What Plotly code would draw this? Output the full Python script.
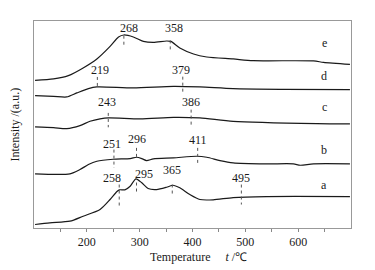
import plotly.graph_objects as go

# Curve data (temperature in degC, intensity in arbitrary units, offset stacked)
T_e = [102, 137, 165, 193, 219, 244, 260, 270, 288, 307, 326, 351, 359, 376, 402, 427, 477, 515, 629, 648, 698]
I_e = [147.8, 149.2, 152.5, 160.2, 169.2, 181.8, 191.2, 193.2, 191.2, 186.8, 185.8, 187.2, 186.8, 180.2, 174.2, 171.2, 169.2, 167.5, 167.2, 165.8, 163.8]

T_d = [102, 137, 162, 181, 203, 219, 288, 364, 414, 477, 572, 698]
I_d = [132.5, 131.8, 131.2, 135.2, 139.5, 141.2, 140.2, 141.8, 141.2, 139.5, 138.8, 138.5]

T_c = [102, 137, 162, 187, 206, 225, 241, 301, 364, 414, 477, 635, 698]
I_c = [101.2, 100.5, 99.5, 102.5, 106.8, 109.2, 110.2, 109.2, 110.8, 110.2, 106.8, 104.5, 104.2]

T_b = [102, 168, 187, 203, 219, 250, 282, 294, 304, 313, 326, 364, 408, 427, 452, 477, 540, 591, 604, 629, 698]
I_b = [54.2, 54.2, 58.5, 63.5, 66.8, 68.8, 69.5, 70.8, 69.5, 67.5, 69.2, 70.2, 71.8, 70.8, 67.5, 65.2, 64.2, 64.2, 62.8, 64.2, 64.2]

T_a = [102, 130, 168, 193, 225, 244, 257, 262, 272, 282, 293, 304, 316, 332, 351, 363, 376, 395, 414, 439, 477, 540, 698]
I_a = [3.5, 5.2, 6.8, 11.8, 18.5, 28.5, 36.5, 38.2, 38.2, 41.8, 49.2, 45.2, 39.5, 38.5, 40.8, 42.8, 40.2, 33.5, 28.5, 28.2, 30.5, 31.5, 31.5]

series_names = ["a", "b", "c", "d", "e"]
series_T = [T_a, T_b, T_c, T_d, T_e]
series_I = [I_a, I_b, I_c, I_d, I_e]

# Curve letter labels
letter_T = [648, 648, 650, 648, 650]
letter_I = [43.5, 78.5, 121.2, 152.5, 185.2]

# Peak labels and marker lines
peak_text = ["268", "358", "219", "379", "243", "386", "251", "296", "411", "258", "295", "365", "495"]
peak_text_T = [280.1, 364.1, 225.0, 378.6, 238.7, 397.4, 248.1, 295.1, 409.8, 248.1, 307.7, 361.7, 492.5]
peak_text_I = [200.2, 200.2, 158.5, 158.5, 126.2, 126.2, 84.5, 89.5, 88.5, 50.2, 54.2, 58.5, 50.2]
peak_line_T = [270.1, 357.9, 219.9, 381.6, 240.6, 397.4, 251.3, 294.0, 409.8, 261.3, 294.0, 361.7, 492.5]
peak_line_top = [192.5, 187.8, 151.2, 151.5, 115.2, 118.5, 78.5, 80.2, 80.2, 43.5, 45.5, 43.5, 43.5]
peak_line_bot = [181.8, 176.8, 141.2, 134.2, 100.8, 100.5, 60.2, 68.5, 62.8, 20.8, 35.2, 33.5, 23.5]

x_ticks = [200, 300, 400, 500, 600]
x_minor = [150, 250, 350, 450, 550, 650]

FONT = "Liberation Serif"
INK = "#1a1a1a"

fig = go.Figure()
for name, xs, ys in zip(series_names, series_T, series_I):
    fig.add_trace(go.Scatter(x=xs, y=ys, mode="lines", name=name,
                             line=dict(color=INK, width=1.2, shape="spline", smoothing=0.7),
                             showlegend=False, hoverinfo="skip"))

for xt, yt, t in zip(letter_T, letter_I, series_names):
    fig.add_annotation(x=xt, y=yt, text=t, showarrow=False,
                       font=dict(family=FONT, size=12, color=INK))

for t, xt, yt, xl, y0, y1 in zip(peak_text, peak_text_T, peak_text_I, peak_line_T, peak_line_top, peak_line_bot):
    fig.add_annotation(x=xt, y=yt, text=t, showarrow=False,
                       font=dict(family=FONT, size=12, color=INK))
    fig.add_shape(type="line", x0=xl, x1=xl, y0=y0, y1=y1, xref="x", yref="y",
                  line=dict(color="#555555", width=1, dash="dot"))

fig.add_annotation(xref="paper", yref="paper", x=0.52, y=-0.142, yanchor="middle",
                   text="Temperature&nbsp;&nbsp;&nbsp;&nbsp;&nbsp;<i>t</i> /℃", showarrow=False,
                   font=dict(family=FONT, size=12, color=INK))
fig.add_annotation(xref="paper", yref="paper", x=-0.06, y=0.5, xanchor="center",
                   text="Intensity /(a.u.)", textangle=-90, showarrow=False,
                   font=dict(family=FONT, size=12, color=INK))

fig.update_xaxes(range=[100, 700], tickvals=x_ticks, ticks="outside", ticklen=3,
                 tickcolor="#888888", showline=True, linecolor="#999999", linewidth=1,
                 mirror=True, showgrid=False, zeroline=False,
                 tickfont=dict(family=FONT, size=12, color=INK),
                 minor=dict(tickvals=x_minor, ticks="outside", ticklen=3, tickcolor="#888888"))
fig.update_yaxes(range=[0, 207.2], showticklabels=False, ticks="", showline=True,
                 linecolor="#999999", linewidth=1, mirror=True, showgrid=False, zeroline=False)

fig.update_layout(width=375, height=270, margin=dict(l=34, r=24, t=21, b=42),
                  paper_bgcolor="white", plot_bgcolor="white",
                  font=dict(family=FONT, size=12, color=INK))

fig.write_html("out.html", config={"displayModeBar": False},
               post_script="document.body.style.margin='0px';")
